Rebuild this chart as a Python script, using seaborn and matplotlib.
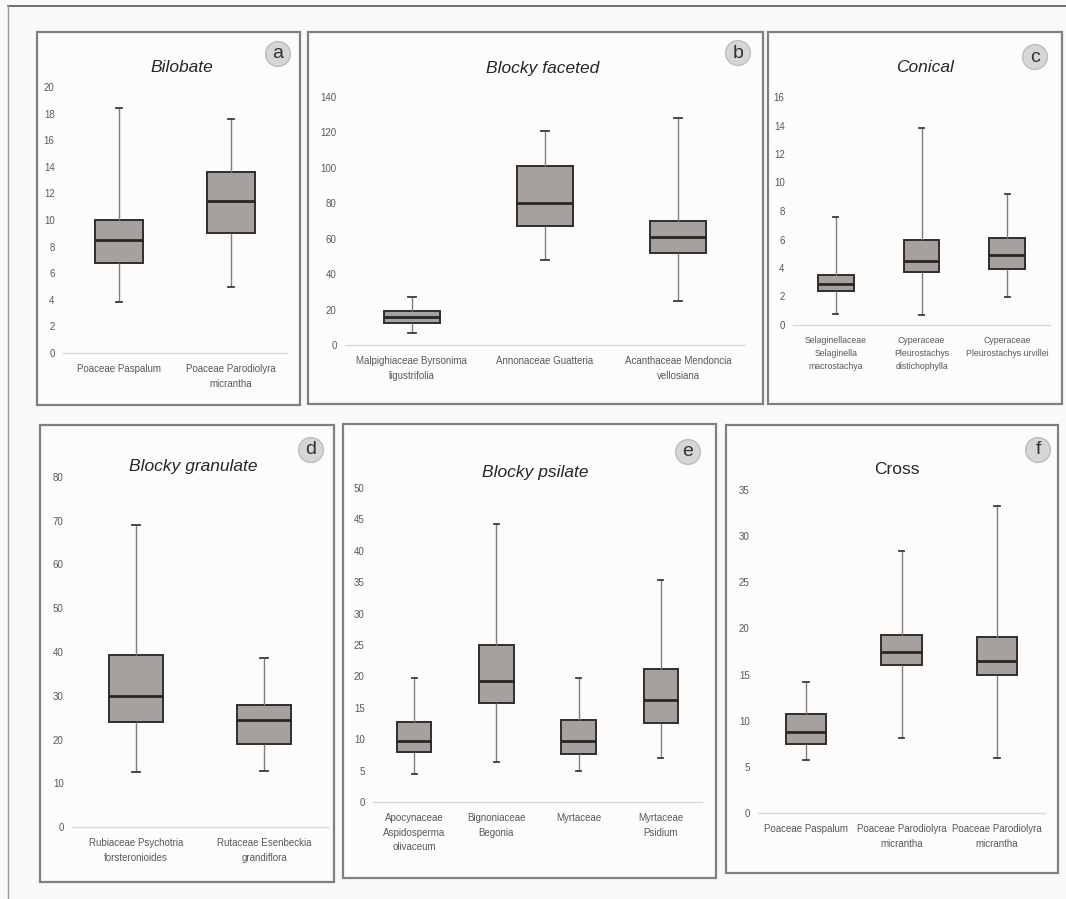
import numpy as np
import pandas as pd
import seaborn as sns
import matplotlib
matplotlib.use('Agg')
import matplotlib.pyplot as plt
from matplotlib.patches import Rectangle
from matplotlib.lines import Line2D

# five-number summaries: min, q1, median, q3, max
bilobate_labels = ["Poaceae Paspalum", "Poaceae Parodiolyra\nmicrantha"]
bilobate_stats = [[3.8, 6.8, 8.5, 10.0, 18.4],
                  [5.0, 9.0, 11.4, 13.6, 17.6]]

faceted_labels = ["Malpighiaceae Byrsonima\nligustrifolia", "Annonaceae Guatteria",
                  "Acanthaceae Mendoncia\nvellosiana"]
faceted_stats = [[7, 12.5, 16, 19, 27],
                 [48, 67, 80, 101, 121],
                 [25, 52, 61, 70, 128]]

conical_labels = ["Selaginellaceae\nSelaginella\nmacrostachya",
                  "Cyperaceae\nPleurostachys\ndistichophylla",
                  "Cyperaceae\nPleurostachys urvillei"]
conical_stats = [[0.8, 2.4, 2.9, 3.5, 7.6],
                 [0.7, 3.7, 4.5, 6.0, 13.8],
                 [2.0, 3.9, 4.9, 6.1, 9.2]]

granulate_labels = ["Rubiaceae Psychotria\nforsteronioides", "Rutaceae Esenbeckia\ngrandiflora"]
granulate_stats = [[12.5, 24, 30, 39.3, 69],
                   [12.7, 19, 24.5, 27.8, 38.7]]

psilate_labels = ["Apocynaceae\nAspidosperma\nolivaceum", "Bignoniaceae\nBegonia",
                  "Myrtaceae", "Myrtaceae\nPsidium"]
psilate_stats = [[4.5, 8, 9.7, 12.7, 19.8],
                 [6.3, 15.8, 19.3, 25, 44.2],
                 [5, 7.7, 9.7, 13, 19.8],
                 [7, 12.6, 16.3, 21.2, 35.3]]

cross_labels = ["Poaceae Paspalum", "Poaceae Parodiolyra\nmicrantha",
                "Poaceae Parodiolyra\nmicrantha"]
cross_stats = [[5.7, 7.5, 8.8, 10.7, 14.2],
               [8.1, 16, 17.4, 19.3, 28.4],
               [6, 15, 16.5, 19.1, 33.3]]

W, H = 1066, 899
fig = plt.figure(figsize=(W / 100, H / 100), dpi=100)
fig.patch.set_facecolor('#fbfaf8')

def frac(x0, y0, x1, y1):
    return [x0 / W, 1 - y1 / H, (x1 - x0) / W, (y1 - y0) / H]

# outer lines of the page
fig.add_artist(Line2D([8 / W, 1], [1 - 6 / H, 1 - 6 / H], color='#555555', lw=1.2))
fig.add_artist(Line2D([8 / W, 8 / W], [0, 1 - 6 / H], color='#999999', lw=1.0))

panels = [
    # frame, axes rect, ylim, step, title, italic, title pos, letter, letter pos, label size, labels, stats
    ((37, 32, 300, 405), (63, 87, 287, 353), 20, 2, "Bilobate", True, (182, 68), "a", (278, 54), 7,
     bilobate_labels, bilobate_stats),
    ((308, 32, 763, 404), (345, 97, 745, 345), 140, 20, "Blocky faceted", True, (543, 69), "b", (738, 53), 7,
     faceted_labels, faceted_stats),
    ((768, 32, 1062, 404), (793, 97, 1050, 325), 16, 2, "Conical", True, (925, 67), "c", (1035, 57), 6.3,
     conical_labels, conical_stats),
    ((40, 425, 334, 882), (72, 477, 328, 827), 80, 10, "Blocky granulate", True, (193, 467), "d", (311, 450), 7,
     granulate_labels, granulate_stats),
    ((343, 424, 716, 878), (373, 488, 702, 802), 50, 5, "Blocky psilate", True, (535, 472), "e", (688, 452), 7,
     psilate_labels, psilate_stats),
    ((726, 425, 1058, 873), (758, 490, 1045, 813), 35, 5, "Cross", False, (897, 469), "f", (1038, 450), 7,
     cross_labels, cross_stats),
]

tick_font = 'Liberation Sans'

for (frame, rect, ymax, step, title, italic, tpos, letter, lpos, fs, labels, stats) in panels:
    fx0, fy0, fx1, fy1 = frame
    fig.add_artist(Rectangle((fx0 / W, 1 - fy1 / H), (fx1 - fx0) / W, (fy1 - fy0) / H,
                             transform=fig.transFigure, facecolor='#fdfcfa',
                             edgecolor='#808080', lw=1.6, zorder=0))

    rows = []
    for i, vals in enumerate(stats):
        for v in vals:
            rows.append({'grp': i, 'value': v})
    df = pd.DataFrame(rows)

    ax = fig.add_axes(frac(*rect))
    ax.set_facecolor('none')
    sns.boxplot(data=df, x='grp', y='value', ax=ax, whis=(0, 100), width=0.42,
                color='#a8a19d', linecolor='#2e2e2e', linewidth=1.4, showfliers=False,
                medianprops=dict(linewidth=2.0, color='#262626'),
                whiskerprops=dict(linewidth=1.0, color='#7f7f7f'),
                capprops=dict(linewidth=1.3, color='#3a3a3a'))
    # short caps like the original spreadsheet charts
    for cap in ax.lines:
        xd = cap.get_xdata()
        if len(xd) == 2 and xd[0] != xd[1] and cap.get_color() == '#3a3a3a':
            c = (xd[0] + xd[1]) / 2
            cap.set_xdata([c - 0.03, c + 0.03])

    ax.set_xlim(-0.5, len(stats) - 0.5)
    ax.set_ylim(0, ymax)
    ax.set_yticks(np.arange(0, ymax + step / 2, step))
    ax.set_xticks(range(len(labels)))
    ax.set_xticklabels(labels, fontsize=fs, color='#595959', family=tick_font, linespacing=1.55)
    for lab in ax.get_yticklabels():
        lab.set_fontsize(7)
        lab.set_color('#595959')
        lab.set_family(tick_font)
    ax.tick_params(axis='both', length=0)
    ax.tick_params(axis='y', pad=6)
    ax.tick_params(axis='x', pad=8)
    ax.set_xlabel('')
    ax.set_ylabel('')
    for s in ['top', 'right', 'left']:
        ax.spines[s].set_visible(False)
    ax.spines['bottom'].set_color('#d9d9d9')
    ax.spines['bottom'].set_linewidth(1.0)

    fig.text(tpos[0] / W, 1 - tpos[1] / H, title, ha='center', va='center', fontsize=12.5,
             style='italic' if italic else 'normal', color='#262626', family='Liberation Sans')
    # letter badge
    fig.text(lpos[0] / W, 1 - lpos[1] / H, letter, ha='center', va='center', fontsize=14,
             color='#333333', family='Liberation Sans', zorder=4,
             bbox=dict(boxstyle='circle,pad=0.2', facecolor='#d6d6d6', edgecolor='#bdbdbd', lw=1.0))

plt.savefig('out.png', dpi=100, facecolor=fig.get_facecolor())
